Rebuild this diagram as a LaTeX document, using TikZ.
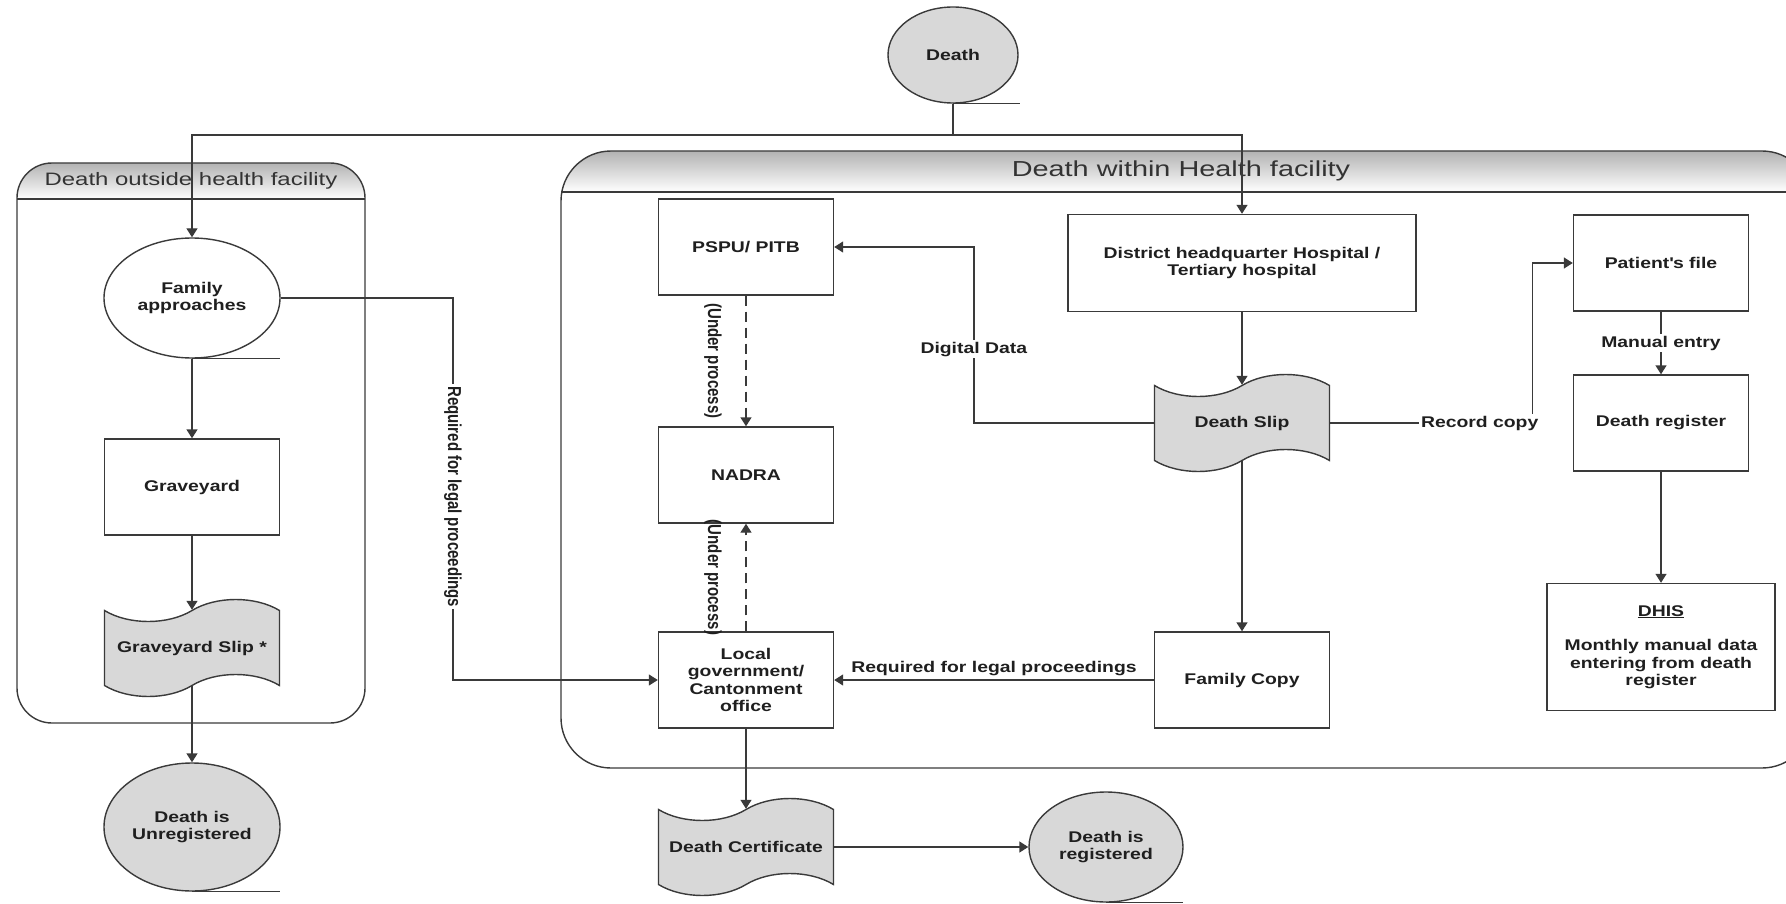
\documentclass[tikz,border=0pt]{standalone}
\usepackage{fontspec}
\setmainfont{Liberation Sans}[FakeStretch=1.25]
\newfontfamily\hdrfont{Liberation Sans}[FakeStretch=1.33]
\newfontfamily\rotfont{Liberation Sans}
\usetikzlibrary{shapes.geometric,shapes.symbols,arrows.meta}
\definecolor{linegray}{RGB}{58,58,58}
\definecolor{slipgray}{RGB}{216,216,216}

\begin{document}
\begin{tikzpicture}[x=1pt, y=-1pt, line width=1.4pt, color=linegray,
    every node/.style={font=\bfseries\fontsize{15.5}{17.5}\selectfont, text=black!88}]
    \tikzstyle{box}=[draw, fill=white, rectangle, minimum width=175pt, minimum height=96pt, align=center, inner sep=2pt]
    \tikzstyle{slip}=[draw, fill=slipgray, tape, tape bend height=22pt, minimum width=175pt, minimum height=97pt, align=center]
    \tikzstyle{endpt}=[draw, ellipse, fill=slipgray, inner sep=0pt, align=center]
    \tikzstyle{marr}=[-{Triangle[length=9pt,width=11pt]}]
    \tikzstyle{dasharr}=[marr, dash pattern=on 10pt off 6pt]
    \tikzstyle{lbl}=[fill=white, inner sep=2pt]
    \tikzstyle{vlbl}=[font=\rotfont\bfseries\fontsize{15}{17}\selectfont, xscale=1.25, rotate=-90, inner sep=2pt]
    \tikzstyle{lanetitle}=[text=black!80, inner sep=0pt]

    \useasboundingbox (0,0) rectangle (1786,904);
    \clip (0,0) rectangle (1786,904);

    \begin{scope}
        \begin{scope}
            \clip[rounded corners=35pt] (17,163) rectangle (365,723);
            \shade[top color=black!30, bottom color=white] (17,163) rectangle (365,199);
        \end{scope}
        \draw[rounded corners=35pt] (17,163) rectangle (365,723);
        \draw (17,199) -- (365,199);
        \node[lanetitle, font=\hdrfont\fontsize{18}{20}\selectfont] (outlane) at (191,181) {Death outside health facility};
    \end{scope}

    \begin{scope}
        \begin{scope}
            \clip[rounded corners=50pt] (561,151) rectangle (1812,768);
            \shade[top color=black!30, bottom color=white] (561,151) rectangle (1812,192);
        \end{scope}
        \draw[rounded corners=50pt] (561,151) rectangle (1812,768);
        \draw (561,192) -- (1812,192);
        \node[lanetitle, font=\hdrfont\fontsize{21.7}{24}\selectfont] (inlane) at (1181,171) {Death within Health facility};
    \end{scope}

    \node[endpt, minimum width=130pt, minimum height=96pt] (death) at (953,55) {Death};
    \node[endpt, fill=white, minimum width=176pt, minimum height=120pt] (fam) at (192,298) {Family\\approaches};
    \node[slip] (gslip) at (192,648) {Graveyard Slip *};
    \node[endpt, minimum width=176pt, minimum height=128pt] (unreg) at (192,827) {Death is\\Unregistered};

    \foreach \name/\x/\y/\txt in {grave/192/487/Graveyard, pspu/746/247/{PSPU/ PITB}, nadra/746/475/NADRA,
        lgov/746/680/{Local\\government/\\Cantonment\\office}, fcopy/1242/680/Family Copy,
        patient/1661/263/Patient\textquotesingle s file, dreg/1661/423/Death register} {
        \node[box] (\name) at (\x,\y) {\txt};
    }
    \node[box, minimum width=348pt, minimum height=97pt] (dhq) at (1242,263) {District headquarter Hospital /\\Tertiary hospital};
    \node[box, minimum width=228pt, minimum height=127pt] (dhis) at (1661,647) {\underline{DHIS}\\[17pt]Monthly manual data\\entering from death\\register};
    \node[slip] (slip) at (1242,423) {Death Slip};
    \node[slip] (cert) at (746,847) {Death Certificate};
    \node[endpt, minimum width=154pt, minimum height=110pt] (reg) at (1106,847) {Death is\\registered};

    \draw (death.south) -- ++(67,0);
    \draw (fam.south) -- ++(88,0);
    \draw (unreg.south) -- ++(88,0);
    \draw (reg.south) -- ++(77,0);

    \coordinate (split) at (953,135);
    \draw (death.south) -- (split);
    \draw[marr] (split) -| (fam.north);
    \draw[marr] (split) -| (dhq.north);

    \draw[marr] (fam.south) -- (grave.north);
    \draw[marr] (grave.south) -- (gslip.north);
    \draw[marr] (gslip.south) -- (unreg.north);

    \coordinate (legal) at (453,680);
    \draw[marr] (fam.east) -| (legal) node[pos=.76, lbl, vlbl] {Required for legal proceedings} -- (lgov.west);

    \draw[dasharr] (pspu.south) -- (nadra.north) node[midway, xshift=-33pt, vlbl] {(Under process)};
    \draw[dasharr] (lgov.north) -- (nadra.south) node[midway, xshift=-33pt, vlbl] {(Under process)};

    \draw[marr] (dhq.south) -- (slip.north);
    \draw[marr] (slip.west) -- ++(-180,0) |- (pspu.east) node[pos=.21, lbl] {Digital Data};
    \draw[marr] (slip.east) -- ++(202,0) node[pos=.74, lbl] {Record copy} |- (patient.west);
    \draw[marr] (patient.south) -- (dreg.north) node[midway, lbl] {Manual entry};
    \draw[marr] (dreg.south) -- (dhis.north);
    \draw[marr] (slip.south) -- (fcopy.north);
    \draw[marr] (fcopy.west) -- (lgov.east) node[midway, above] {Required for legal proceedings};
    \draw[marr] (lgov.south) -- (cert.north);
    \draw[marr] (cert.east) -- (reg.west);

\end{tikzpicture}
\end{document}
